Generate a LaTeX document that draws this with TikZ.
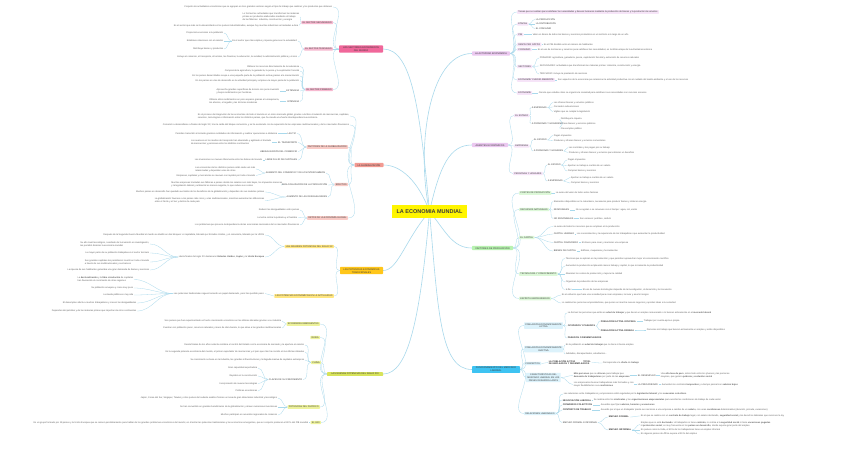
\documentclass[tikz,border=0pt]{standalone}
\usepackage{fontspec}
\setmainfont{Liberation Sans}
\pgfdeclarelayer{bg}
\pgfsetlayers{bg,main}
\definecolor{boxtxt}{HTML}{3A3A3A}
\definecolor{leaftxt}{HTML}{5E5E5E}
\definecolor{linec}{HTML}{A9D9EC}
\definecolor{cC}{HTML}{FFF500}
\definecolor{cL1}{HTML}{F0679A}
\definecolor{cL1s}{HTML}{F7B9D0}
\definecolor{cL2}{HTML}{F29A92}
\definecolor{cL2s}{HTML}{F9CBC6}
\definecolor{cL3}{HTML}{FFC61A}
\definecolor{cL3s}{HTML}{FFE680}
\definecolor{cL4}{HTML}{D7E35A}
\definecolor{cL4s}{HTML}{EDF29B}
\definecolor{cR1}{HTML}{EBC8F0}
\definecolor{cR1s}{HTML}{F6E4F8}
\definecolor{cR3}{HTML}{B8F2B0}
\definecolor{cR3s}{HTML}{DDF8D8}
\definecolor{cR4}{HTML}{3EC3F2}
\definecolor{cR4s}{HTML}{DCF2FB}
\newcommand\fsleaf{\fontsize{2.3}{2.9}\selectfont}
\newcommand\fsbox{\fontsize{2.4}{3}\selectfont}
\newcommand\LeafL[4]{\node[leafL] (#1) at (#2,#3) {#4};}
\newcommand\LeafR[4]{\node[leafR] (#1) at (#2,#3) {#4};}
\newcommand\LabL[4]{\node[leafL,text=boxtxt] (#1) at (#2,#3) {#4};}
\newcommand\LabR[4]{\node[leafR,text=boxtxt] (#1) at (#2,#3) {#4};}
\newcommand\cL[2]{\foreach \cc in {#2}{\draw[conn] (#1.west) to[out=180,in=0] (\cc.east);}}
\newcommand\cR[2]{\foreach \cc in {#2}{\draw[conn] (#1.east) to[out=0,in=180] (\cc.west);}}
\begin{document}
\begin{tikzpicture}[x=1pt,y=-1pt,
  leafL/.style={anchor=east,inner xsep=0.6pt,inner ysep=0.3pt,font=\fsleaf,text=leaftxt,align=left},
  leafR/.style={anchor=west,inner xsep=0.6pt,inner ysep=0.3pt,font=\fsleaf,text=leaftxt,align=left},
  subL/.style={anchor=east,fill=#1,rounded corners=0.5pt,inner xsep=1.2pt,inner ysep=0.8pt,font=\fsleaf,text=boxtxt,align=center},
  subR/.style={anchor=west,fill=#1,rounded corners=0.5pt,inner xsep=1.2pt,inner ysep=0.8pt,font=\fsleaf,text=boxtxt,align=center},
  mainb/.style={fill=#1,rounded corners=0.6pt,inner xsep=1.5pt,inner ysep=1pt,font=\fsbox,text=boxtxt,align=center},
  conn/.style={draw=linec,line width=0.3pt},
  mconn/.style={draw=linec,line width=0.6pt}]
\useasboundingbox (0,0) rectangle (848,448);
\begin{pgfonlayer}{bg}
\fill[white] (0,0) rectangle (848,448);
\end{pgfonlayer}

% ---------- centre
\node[fill=cC,minimum width=75,minimum height=13,inner sep=0pt,font=\fontsize{5.5}{6}\selectfont\bfseries,text=boxtxt] (C) at (429.5,211.5) {LA ECONOMIA MUNDIAL};

% ---------- LEFT 1
\node[mainb=cL1,minimum width=44] (L1) at (361,49) {LOS SECTORES ECONÓMICOS\\DEL MUNDO};
\LeafL{L1t}{333}{7}{Conjunto de actividades económicas que se agrupan en tres grandes sectores según el tipo de trabajo que realizan y los productos que obtienen}
\node[subL=cL1s] (L1a) at (333,22.5) {EL SECTOR SECUNDARIO};
\LeafL{L1a1}{300}{17}{Lo forman las actividades que transforman las materias\\primas en productos elaborados mediante el trabajo\\de las fábricas: industria, construcción y energía}
\LeafL{L1a2}{299}{25.5}{Es el sector que más se ha desarrollado en los países industrializados, aunque hoy muchas industrias se trasladan a Asia}
\node[subL=cL1s] (L1b) at (333,49) {EL SECTOR TERCIARIO};
\LeafL{L1b1}{298}{41}{Es el sector que más empleo y riqueza genera en la actualidad:}
\LeafL{L1b1a}{224}{33}{Proporciona servicios a la población}
\LeafL{L1b1b}{224}{41}{Establece relaciones con el exterior}
\LeafL{L1b1c}{224}{49}{Distribuye bienes y productos}
\LeafL{L1b2}{298}{57}{Incluye el comercio, el transporte, el turismo, las finanzas, la educación, la sanidad, la administración pública y el ocio}
\node[subL=cL1s] (L1c) at (333,89.5) {EL SECTOR PRIMARIO};
\LeafL{L1c1}{300}{66.5}{Obtiene los recursos directamente de la naturaleza}
\LeafL{L1c2}{300}{71}{Comprende la agricultura, la ganadería, la pesca y la explotación forestal}
\LeafL{L1c3}{300}{76}{En los países desarrollados ocupa a una pequeña parte de la población activa gracias a la mecanización}
\LeafL{L1c4}{300}{80.5}{En los países en vías de desarrollo es la actividad principal y emplea a la mayor parte de la población}
\LabL{L1c5}{300}{91}{EXTENSIVA}
\LeafL{L1c5a}{280}{91}{Aprovecha grandes superficies de terreno con poca inversión\\y bajos rendimientos por hectárea}
\LabL{L1c6}{300}{101.5}{INTENSIVA}
\LeafL{L1c6a}{280}{101.5}{Obtiene altos rendimientos en poco espacio gracias a la maquinaria,\\los abonos, el regadío y las técnicas modernas}

% ---------- LEFT 2
\node[mainb=cL2,minimum width=29] (L2) at (369,165) {LA GLOBALIZACIÓN};
\LeafL{L2t1}{350}{116}{Es el proceso de integración de las economías de todo el mundo en un único mercado global, gracias a la libre circulación de mercancías, capitales,\\servicios, tecnologías e información entre los distintos países, que ha creado una fuerte interdependencia económica}
\LeafL{L2t2}{350}{125}{Comenzó a desarrollarse a finales del siglo XX, tras la caída del bloque comunista, y se ha acelerado con la expansión de las empresas multinacionales y de los mercados financieros}
\node[subL=cL2s] (L2a) at (348,147) {FACTORES DE LA GLOBALIZACIÓN};
\LabL{L2a1}{297}{133.5}{LAS TIC}
\LeafL{L2a1a}{278}{133.5}{Permiten transmitir al instante grandes cantidades de información y realizar operaciones a distancia}
\LabL{L2a2}{298}{142.5}{EL TRANSPORTE}
\LeafL{L2a2a}{272}{142.5}{Los avances en los medios de transporte han abaratado y agilizado el traslado\\de mercancías y personas entre los distintos continentes}
\LabL{L2a3}{298}{151.5}{LIBERALIZACIÓN DEL COMERCIO}
\LabL{L2a4}{298}{160}{LIBRE FLUJO DE CAPITALES}
\LeafL{L2a4a}{263}{160}{Las inversiones se mueven libremente entre las bolsas del mundo}
\node[subL=cL2s] (L2b) at (348,184.5) {EFECTOS};
\LabL{L2b1}{326}{173}{AUMENTO DEL COMERCIO Y DE LOS INTERCAMBIOS}
\LeafL{L2b1a}{256}{169}{Las economías de los distintos países están cada vez más\\relacionadas y dependen unas de otras}
\LeafL{L2b1b}{256}{175.5}{Empresas, capitales y mercancías se mueven con rapidez por todo el mundo}
\LabL{L2b2}{328}{185}{DESLOCALIZACIÓN DE LA PRODUCCIÓN}
\LeafL{L2b2a}{283}{184.5}{Muchas empresas trasladan sus fábricas a países donde los salarios son más bajos, los impuestos menores\\y la legislación laboral y ambiental es menos exigente, lo que reduce sus costes}
\LabL{L2b3}{328}{197}{AUMENTO DE LAS DESIGUALDADES}
\LeafL{L2b3a}{265}{192}{Muchos países en desarrollo han quedado excluidos de los beneficios de la globalización y dependen de sus materias primas}
\LeafL{L2b3b}{265}{200.5}{La globalización favorece a los países más ricos y a las multinacionales, mientras aumentan las diferencias\\entre el Norte y el Sur y dentro de cada país}
\node[subL=cL2s] (L2c) at (348,218) {RETOS DE LA ECONOMÍA GLOBAL};
\LeafL{L2c1}{300}{210}{Reducir las desigualdades entre países}
\LeafL{L2c2}{298}{217.5}{La lucha contra la pobreza y el hambre}
\LeafL{L2c3}{300}{225}{Los problemas que provoca la dependencia de las economías nacionales de los mercados financieros}

% ---------- LEFT 3
\node[mainb=cL3,minimum width=43] (L3) at (361.5,270.5) {LAS POTENCIAS ECONÓMICAS\\TRADICIONALES};
\node[subL=cL3s] (L3a) at (334,246.5) {LAS GRANDES POTENCIAS DEL SIGLO XX};
\LeafL{L3a1}{265}{235}{Después de la Segunda Guerra Mundial el mundo se dividió en dos bloques: el capitalista, liderado por Estados Unidos, y el comunista, liderado por la URSS}
\LeafL{L3a2}{265}{257}{Hasta finales del siglo XX destacaron \textbf{Estados Unidos}, \textbf{Japón} y la \textbf{Unión Europea}}
\LeafL{L3a2a}{150}{244}{Su alto nivel tecnológico, resultado de la inversión en investigación,\\les permitió dominar la economía mundial}
\LeafL{L3a2b}{150}{253}{La mayor parte de su población trabajaba en el sector terciario}
\LeafL{L3a2c}{150}{262}{Sus grandes capitales les permitieron invertir en todo el mundo\\a través de sus multinacionales y sus bancos}
\LeafL{L3a2d}{150}{270}{La riqueza de sus habitantes generaba una gran demanda de bienes y servicios}
\node[subL=cL3s] (L3b) at (334,296) {LAS POTENCIAS ECONÓMICAS EN LA ACTUALIDAD};
\LeafL{L3b1}{265}{293.5}{Las potencias tradicionales siguen teniendo un papel destacado, pero han perdido peso:}
\LeafL{L3b1a}{134}{279.5}{La \textbf{deslocalización} y la \textbf{libre circulación} de capitales\\han favorecido el crecimiento de otras regiones}
\LeafL{L3b1b}{134}{288}{Su población envejece y crece muy poco}
\LeafL{L3b1c}{134}{295}{La deuda pública es muy alta}
\LeafL{L3b1d}{137}{303}{El desempleo afecta a muchos trabajadores y crecen las desigualdades}
\LeafL{L3b1e}{137}{311}{Dependen del petróleo y de las materias primas que importan de otros continentes}

% ---------- LEFT 4
\node[mainb=cL4,minimum width=56] (L4) at (355,374) {LAS NUEVAS POTENCIAS DEL SIGLO XXI};
\node[subL=cL4s] (L4a) at (320,324) {ECONOMÍAS EMERGENTES};
\LeafL{L4a1}{282}{321}{Son países que han experimentado un fuerte crecimiento económico en las últimas décadas gracias a su industria}
\LeafL{L4a2}{282}{328}{Cuentan con población joven, recursos naturales y mano de obra barata, lo que atrae a las grandes multinacionales}
\node[subL=cL4s] (L4b) at (320,337.5) {RUSIA};
\node[subL=cL4s] (L4c) at (321,362.5) {CHINA};
\LeafL{L4c1}{305}{345}{Desde finales de los años setenta combina el control del Estado con la economía de mercado y la apertura al exterior}
\LeafL{L4c2}{305}{352}{Es la segunda potencia económica del mundo, el primer exportador de mercancías y el país que más ha crecido en las últimas décadas}
\LeafL{L4c3}{305}{360}{Su crecimiento se basa en la industria, las grandes infraestructuras y la llegada masiva de capitales extranjeros}
\LabL{L4c4}{303}{379.5}{CLAVES DE SU CRECIMIENTO}
\LeafL{L4c4a}{258}{368}{Gran capacidad exportadora}
\LeafL{L4c4b}{258}{376}{Rapidez en la construcción}
\LeafL{L4c4c}{258}{383.5}{Incorporación de nuevas tecnologías}
\LeafL{L4c4d}{258}{391}{Políticas económicas}
\node[subL=cL4s] (L4d) at (320,407) {POTENCIAS DEL PACÍFICO};
\LeafL{L4d1}{278}{398}{Japón, Corea del Sur, Singapur, Taiwán y otros países del sudeste asiático forman un área de gran dinamismo industrial y tecnológico}
\LeafL{L4d2}{278}{407}{Se han convertido en grandes beneficiarios de la globalización y atraen numerosas inversiones}
\LeafL{L4d3}{278}{415}{Muchos participan en acuerdos regionales de comercio}
\node[subL=cL4s] (L4e) at (321,422.5) {EL G20};
\LeafL{L4e1}{309}{422.5}{Es un grupo formado por 19 países y la Unión Europea que se reúnen periódicamente para hablar de los grandes problemas económicos del mundo; en él están las potencias tradicionales y las economías emergentes, que en conjunto producen el 80\,\% del PIB mundial}

% ---------- RIGHT 1
\node[mainb=cR1,minimum width=38] (R1) at (491,53.5) {LA ACTIVIDAD ECONÓMICA};
\node[subR=cR1s] (R1a) at (517,12) {Tareas que se realizan para satisfacer las necesidades y deseos humanos mediante la producción de bienes y la prestación de servicios};
\node[subR=cR1s] (R1b) at (517,24) {ETAPAS};
\LabR{R1b1}{535}{19.5}{LA PRODUCCIÓN}
\LabR{R1b2}{535}{24}{LA DISTRIBUCIÓN}
\LabR{R1b3}{535}{28.5}{EL CONSUMO}
\node[subR=cR1s] (R1c) at (517,34.5) {PIB};
\LeafR{R1c1}{532}{34.5}{Valor en dinero de todos los bienes y servicios producidos en un territorio a lo largo de un año}
\node[subR=cR1s] (R1d) at (517,44.5) {RENTA PER CÁPITA};
\LeafR{R1d1}{543}{44.5}{Es el PIB dividido entre el número de habitantes}
\node[subR=cR1s] (R1e) at (517,49.5) {CONSUMO};
\LeafR{R1e1}{537}{49.5}{Es el uso de los bienes y servicios para satisfacer las necesidades; es la última etapa de la actividad económica}
\node[subR=cR1s] (R1f) at (517,66.5) {SECTORES};
\LeafR{R1f1}{539}{58}{PRIMARIO: agricultura, ganadería, pesca, explotación forestal y extracción de recursos naturales}
\LeafR{R1f2}{539}{66}{SECUNDARIO: actividades que transforman las materias primas: industria, construcción y energía}
\LeafR{R1f3}{539}{74}{TERCIARIO: incluye la prestación de servicios}
\node[subR=cR1s] (R1g) at (517,80) {ECONOMÍA Y MEDIO AMBIENTE};
\LeafR{R1g1}{557}{80}{Son aspectos de la economía que relacionan la actividad productiva con el cuidado del medio ambiente y el uso de los recursos}
\node[subR=cR1s] (R1h) at (517,93) {ECONOMÍA};
\LeafR{R1h1}{538}{93}{Ciencia que estudia cómo se organiza la sociedad para satisfacer sus necesidades con recursos escasos}

% ---------- RIGHT 2
\node[mainb=cR1,minimum width=36] (R2) at (490,145) {AGENTES ECONÓMICOS};
\node[subR=cR1s] (R2a) at (514,115.5) {EL ESTADO};
\LabR{R2a1}{531}{107.5}{A EMPRESAS}
\LeafR{R2a1a}{553}{102.5}{Les ofrecen bienes y servicios públicos}
\LeafR{R2a1b}{553}{107}{Conceden subvenciones}
\LeafR{R2a1c}{553}{111.5}{Vigilan que se cumpla la legislación}
\LabR{R2a2}{531}{123.5}{A PERSONAS Y HOGARES}
\LeafR{R2a2a}{560}{119}{Distribuye la riqueza}
\LeafR{R2a2b}{560}{124}{Ofrece bienes y servicios públicos}
\LeafR{R2a2c}{560}{128.5}{Crea empleo público}
\node[subR=cR1s] (R2b) at (514,146) {EMPRESAS};
\LabR{R2b1}{533}{140}{AL ESTADO}
\LeafR{R2b1a}{553}{135.5}{Pagan impuestos}
\LeafR{R2b1b}{553}{140.5}{Producen y ofrecen bienes y servicios comerciales}
\LabR{R2b2}{533}{151}{A PERSONAS Y HOGARES}
\LeafR{R2b2a}{568}{147.5}{Les contratan y les pagan por su trabajo}
\LeafR{R2b2b}{568}{152.5}{Producen y ofrecen bienes y servicios para obtener un beneficio}
\node[subR=cR1s] (R2c) at (513,173.5) {PERSONAS Y HOGARES};
\LabR{R2c1}{547}{165}{AL ESTADO}
\LeafR{R2c1a}{567}{160}{Pagan impuestos}
\LeafR{R2c1b}{567}{165.5}{Aportan su trabajo a cambio de un salario}
\LeafR{R2c1c}{567}{171}{Compran bienes y servicios}
\LabR{R2c2}{547}{181}{A EMPRESAS}
\LeafR{R2c2a}{570}{177.5}{Aportan su trabajo a cambio de un salario}
\LeafR{R2c2b}{570}{183}{Compran bienes y servicios}

% ---------- RIGHT 3
\node[mainb=cR3,minimum width=41] (R3) at (492.5,248) {FACTORES DE PRODUCCIÓN};
\node[subR=cR3s] (R3a) at (519,193) {COSTES DE PRODUCCIÓN};
\LeafR{R3a1}{555}{193}{La suma del valor de todos estos factores}
\node[subR=cR3s] (R3b) at (519,209.5) {RECURSOS NATURALES};
\LeafR{R3b1}{553}{201.5}{Elementos disponibles en la naturaleza, necesarios para producir bienes y obtener energía}
\LabR{R3b2}{553}{210}{RENOVABLES}
\LeafR{R3b2a}{575}{210}{No se agotan o se renuevan con el tiempo: agua, sol, viento}
\LabR{R3b3}{553}{218.5}{NO RENOVABLES}
\LeafR{R3b3a}{579}{218.5}{Son escasos: petróleo, carbón}
\node[subR=cR3s] (R3c) at (519,237.5) {EL CAPITAL};
\LeafR{R3c1}{553}{226.5}{La suma de todos los recursos que se emplean en la producción}
\LabR{R3c2}{553}{234}{CAPITAL HUMANO}
\LeafR{R3c2a}{576}{234}{Los conocimientos y la experiencia de los trabajadores que aumentan la productividad}
\LabR{R3c3}{553}{242.5}{CAPITAL FINANCIERO}
\LeafR{R3c3a}{581}{242.5}{El dinero para crear y mantener una empresa}
\LabR{R3c4}{553}{251}{BIENES DE CAPITAL}
\LeafR{R3c4a}{580}{251}{Edificios, maquinaria y herramientas}
\node[subR=cR3s] (R3d) at (519,274) {TECNOLOGÍA Y CONOCIMIENTO};
\LeafR{R3d1}{565}{258.5}{Técnicas que se aplican en la producción y que permiten aprovechar mejor el conocimiento científico}
\LeafR{R3d2}{565}{266}{Aumentan la producción empleando menos trabajo y capital, lo que incrementa la productividad}
\LeafR{R3d3}{565}{274}{Abaratan los costes de producción y mejoran la calidad}
\LeafR{R3d4}{565}{282}{Organizan la producción de las empresas}
\LabR{R3d5}{565}{289.5}{I+D+i}
\LeafR{R3d5a}{582}{289.5}{El uso de nuevas tecnologías depende de la investigación, el desarrollo y la innovación}
\node[subR=cR3s] (R3e) at (519,298.5) {ESPÍRITU EMPRENDEDOR};
\LeafR{R3e1}{561}{295}{Es el esfuerzo que hace una sociedad para crear empresas, innovar y asumir riesgos}
\LeafR{R3e2}{561}{303}{Lo realizan las personas emprendedoras, que ponen en marcha nuevos negocios y aportan ideas a la sociedad}

% ---------- RIGHT 4
\node[mainb=cR4,minimum width=48] (R4) at (496,369.5) {FUNCIONAMIENTO DEL MERCADO\\LABORAL};
\node[subR=cR4s] (R4a) at (524,325.5) {POBLACIÓN ECONÓMICAMENTE\\ACTIVA};
\LeafR{R4a1}{567}{313}{La forman las personas que están en \textbf{edad de trabajar} y que tienen un empleo remunerado o lo buscan activamente en el \textbf{mercado laboral}}
\LabR{R4a2}{567}{326}{\textbf{OCUPADOS Y PARADOS}}
\LabR{R4a2a}{600}{321}{\textbf{POBLACIÓN ACTIVA OCUPADA}}
\LeafR{R4a2a1}{643}{321}{Trabajan por cuenta ajena o propia}
\LabR{R4a2b}{600}{330}{\textbf{POBLACIÓN ACTIVA PARADA}}
\LeafR{R4a2b1}{646}{330}{Personas sin trabajo que buscan activamente un empleo y están disponibles}
\LabR{R4a3}{567}{338}{\textbf{PARADOS O DESEMPLEADOS}}
\node[subR=cR4s] (R4b) at (524,349) {POBLACIÓN ECONÓMICAMENTE\\INACTIVA};
\LeafR{R4b1}{565}{345}{Es la población en \textbf{edad de trabajar} que no tiene ni busca empleo}
\LeafR{R4b2}{565}{354}{Jubilados, discapacitados, estudiantes...}
\node[subR=cR4s] (R4c) at (524,363.5) {CONCEPTOS};
\LabR{R4c1}{548}{362.5}{\textbf{LA POBLACIÓN ACTIVA}\hspace{8pt}\textbf{TOTAL}\\\textbf{DE EMPLEADOS Y DESEMPLEADOS}}
\LeafR{R4c1a}{602}{363}{Corresponde a la \textbf{oferta} de \textbf{trabajo}}
\node[subR=cR4s] (R4d) at (526,377.5) {CARACTERÍSTICAS DEL\\MERCADO LABORAL EN LOS\\PAÍSES DESARROLLADOS};
\LeafR{R4d1}{573}{375.5}{\textbf{Más personas} que se \textbf{ofrecen} para trabajar que\\\textbf{demanda de trabajadores} por parte de las \textbf{empresas}}
\LabR{R4d1a}{637}{375.5}{EL DESEMPLEO}
\LeafR{R4d1a1}{660}{375.5}{Una \textbf{alta tasa de paro}, sobre todo entre los jóvenes y las personas\\mayores, que genera \textbf{pobreza} y \textbf{exclusión social}}
\LeafR{R4d2}{573}{384.5}{Los empresarios buscan trabajadores más formados y con\\mayor flexibilidad en sus \textbf{condiciones}}
\LabR{R4d2a}{637}{384.5}{LA PRECARIEDAD}
\LeafR{R4d2a1}{661}{384.5}{Aumentan los contratos \textbf{temporales} y a tiempo parcial con \textbf{salarios bajos}}
\node[subR=cR4s] (R4e) at (524,413.5) {RELACIONES LABORALES};
\LeafR{R4e1}{563}{394}{Las relaciones entre trabajadores y empresarios están reguladas por la \textbf{legislación laboral} y los \textbf{convenios colectivos}}
\LabR{R4e2}{562}{400}{\textbf{NEGOCIACIÓN LABORAL}}
\LeafR{R4e2a}{593}{400}{Se realiza entre los \textbf{sindicatos} y las \textbf{organizaciones empresariales} para acordar las condiciones de trabajo de cada sector}
\LabR{R4e3}{562}{405}{\textbf{CONVENIOS COLECTIVOS}}
\LeafR{R4e3a}{600}{405}{Acuerdos que fijan \textbf{salarios, horarios y vacaciones}}
\LabR{R4e4}{562}{410}{\textbf{CONTRATO DE TRABAJO}}
\LeafR{R4e4a}{600}{410}{Acuerdo por el que un trabajador presta sus servicios a una empresa a cambio de un \textbf{salario}, con unas \textbf{condiciones} determinadas (duración, jornada, vacaciones)}
\LabR{R4e5}{562}{422.5}{EMPLEO FORMAL E INFORMAL}
\LabR{R4e5a}{608}{417}{\textbf{EMPLEO FORMAL}}
\LeafR{R4e5a1}{640}{416}{Es el que se realiza con un \textbf{contrato de trabajo} legal, con salario declarado, \textbf{seguridad social} y los derechos laborales que reconoce la ley}
\LabR{R4e5b}{608}{430}{\textbf{EMPLEO INFORMAL}}
\LeafR{R4e5b1}{640}{424.5}{Empleo que no está \textbf{declarado}: el trabajador no tiene \textbf{contrato}, no cotiza a la \textbf{seguridad social} ni tiene \textbf{vacaciones pagadas}\\ni \textbf{protección social}; es muy frecuente en los \textbf{países en desarrollo}, donde supone gran parte del empleo}
\LeafR{R4e5b2}{640}{430}{En países como la India, el 80\,\% de los trabajadores tiene un empleo informal}
\LeafR{R4e5b3}{640}{434}{En algunos países de África supera el 90\,\% del empleo}

% ---------- connectors
\begin{pgfonlayer}{bg}
\draw[mconn] (C.center) .. controls (416,150) and (428,53.5) .. (R1.west);
\draw[mconn] (C.center) .. controls (440,165) and (450,145) .. (R2.west);
\draw[mconn] (C.center) .. controls (445,230) and (452,248) .. (R3.west);
\draw[mconn] (C.center) .. controls (438,310) and (440,369.5) .. (R4.west);
\draw[mconn] (C.center) .. controls (420,110) and (412,49) .. (L1.east);
\draw[mconn] (C.center) .. controls (418,180) and (400,165) .. (L2.east);
\draw[mconn] (C.center) .. controls (405,240) and (398,270.5) .. (L3.east);
\draw[mconn] (C.center) .. controls (420,320) and (408,374) .. (L4.east);
\cL{L1}{L1t,L1a,L1b,L1c}
\cL{L1a}{L1a1,L1a2}
\cL{L1b}{L1b1,L1b2}
\cL{L1b1}{L1b1a,L1b1b,L1b1c}
\cL{L1c}{L1c1,L1c2,L1c3,L1c4,L1c5,L1c6}
\cL{L1c5}{L1c5a}
\cL{L1c6}{L1c6a}
\cL{L2}{L2t1,L2t2,L2a,L2b,L2c}
\cL{L2a}{L2a1,L2a2,L2a3,L2a4}
\cL{L2a1}{L2a1a}
\cL{L2a2}{L2a2a}
\cL{L2a4}{L2a4a}
\cL{L2b}{L2b1,L2b2,L2b3}
\cL{L2b1}{L2b1a,L2b1b}
\cL{L2b2}{L2b2a}
\cL{L2b3}{L2b3a,L2b3b}
\cL{L2c}{L2c1,L2c2,L2c3}
\cL{L3}{L3a,L3b}
\cL{L3a}{L3a1,L3a2}
\cL{L3a2}{L3a2a,L3a2b,L3a2c,L3a2d}
\cL{L3b}{L3b1}
\cL{L3b1}{L3b1a,L3b1b,L3b1c,L3b1d,L3b1e}
\cL{L4}{L4a,L4b,L4c,L4d,L4e}
\cL{L4a}{L4a1,L4a2}
\cL{L4c}{L4c1,L4c2,L4c3,L4c4}
\cL{L4c4}{L4c4a,L4c4b,L4c4c,L4c4d}
\cL{L4d}{L4d1,L4d2,L4d3}
\cL{L4e}{L4e1}
\cR{R1}{R1a,R1b,R1c,R1d,R1e,R1f,R1g,R1h}
\cR{R1b}{R1b1,R1b2,R1b3}
\cR{R1c}{R1c1}
\cR{R1d}{R1d1}
\cR{R1e}{R1e1}
\cR{R1f}{R1f1,R1f2,R1f3}
\cR{R1g}{R1g1}
\cR{R1h}{R1h1}
\cR{R2}{R2a,R2b,R2c}
\cR{R2a}{R2a1,R2a2}
\cR{R2a1}{R2a1a,R2a1b,R2a1c}
\cR{R2a2}{R2a2a,R2a2b,R2a2c}
\cR{R2b}{R2b1,R2b2}
\cR{R2b1}{R2b1a,R2b1b}
\cR{R2b2}{R2b2a,R2b2b}
\cR{R2c}{R2c1,R2c2}
\cR{R2c1}{R2c1a,R2c1b,R2c1c}
\cR{R2c2}{R2c2a,R2c2b}
\cR{R3}{R3a,R3b,R3c,R3d,R3e}
\cR{R3a}{R3a1}
\cR{R3b}{R3b1,R3b2,R3b3}
\cR{R3b2}{R3b2a}
\cR{R3b3}{R3b3a}
\cR{R3c}{R3c1,R3c2,R3c3,R3c4}
\cR{R3c2}{R3c2a}
\cR{R3c3}{R3c3a}
\cR{R3c4}{R3c4a}
\cR{R3d}{R3d1,R3d2,R3d3,R3d4,R3d5}
\cR{R3d5}{R3d5a}
\cR{R3e}{R3e1,R3e2}
\cR{R4}{R4a,R4b,R4c,R4d,R4e}
\cR{R4a}{R4a1,R4a2,R4a3}
\cR{R4a2}{R4a2a,R4a2b}
\cR{R4a2a}{R4a2a1}
\cR{R4a2b}{R4a2b1}
\cR{R4b}{R4b1,R4b2}
\cR{R4c}{R4c1}
\cR{R4c1}{R4c1a}
\cR{R4d}{R4d1,R4d2}
\cR{R4d1}{R4d1a}
\cR{R4d1a}{R4d1a1}
\cR{R4d2}{R4d2a}
\cR{R4d2a}{R4d2a1}
\cR{R4e}{R4e1,R4e2,R4e3,R4e4,R4e5}
\cR{R4e2}{R4e2a}
\cR{R4e3}{R4e3a}
\cR{R4e4}{R4e4a}
\cR{R4e5}{R4e5a,R4e5b}
\cR{R4e5a}{R4e5a1}
\cR{R4e5b}{R4e5b1,R4e5b2,R4e5b3}
\end{pgfonlayer}
\end{tikzpicture}
\end{document}
